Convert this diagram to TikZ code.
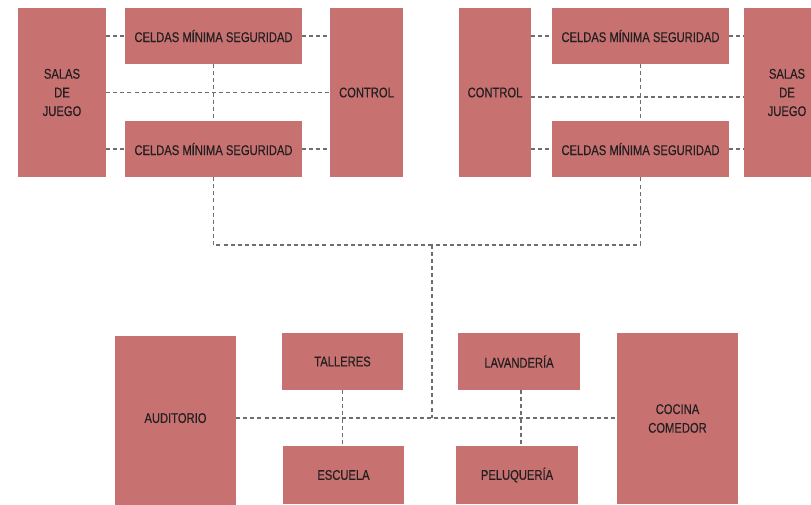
\documentclass[tikz,border=0pt]{standalone}
\usepackage{fontspec}
\setmainfont{Liberation Sans}[FakeStretch=0.8, FakeBold=0.4]
\usepackage{tikz}
\usetikzlibrary{positioning, calc}

\definecolor{roomred}{HTML}{C87171}
\definecolor{linkgray}{HTML}{6E6E6E}
\definecolor{labeltext}{HTML}{231F20}

\begin{document}
\begin{tikzpicture}[
    x=0.75pt, y=-0.75pt,
    room/.style={fill=roomred, draw=none, inner sep=0pt, align=center,
                 text=labeltext, font=\fontsize{10.5}{14}\selectfont},
    cell/.style={room, minimum width=132.75pt, minimum height=42pt},
    link/.style={draw=linkgray, line width=0.9pt,
                 dash pattern=on 3pt off 2.3pt}
  ]
  \useasboundingbox (0,0) rectangle (811,504);

  % Left wing
  \node[room, minimum width=66pt, minimum height=126.75pt] (salasL) at (62,92.5) {SALAS\\DE\\JUEGO};
  \node[cell] (celdaLT) at (213.5,36) {CELDAS MÍNIMA SEGURIDAD};
  \node[cell] (celdaLB) at (213.5,149) {CELDAS MÍNIMA SEGURIDAD};
  \node[room, minimum width=54.75pt, minimum height=126.75pt] (controlL) at (366.5,92.5) {CONTROL};

  % Right wing
  \node[room, minimum width=54pt, minimum height=126.75pt] (controlR) at (495,92.5) {CONTROL};
  \node[cell] (celdaRT) at (640.5,36) {CELDAS MÍNIMA SEGURIDAD};
  \node[cell] (celdaRB) at (640.5,149) {CELDAS MÍNIMA SEGURIDAD};
  \node[room, minimum width=64.5pt, minimum height=126.75pt] (salasR) at (787,92.5) {SALAS\\DE\\JUEGO};

  % Services
  \node[room, minimum width=90.75pt, minimum height=129pt, text depth=6pt] (auditorio) at (175.5,422) {AUDITORIO};
  \node[room, minimum width=90.75pt, minimum height=42.75pt] (talleres) at (342.5,361.5) {TALLERES};
  \node[room, minimum width=90.75pt, minimum height=43.5pt] (escuela) at (343.5,475) {ESCUELA};
  \node[room, minimum width=91.5pt, minimum height=42.75pt] (lavanderia) at (519,361.5) {LAVANDERÍA};
  \node[room, minimum width=91.5pt, minimum height=43.5pt] (peluqueria) at (517,475) {PELUQUERÍA};
  \node[room, minimum width=90.75pt, minimum height=128.25pt] (cocina) at (677.5,418.5) {COCINA\\COMEDOR};

  \coordinate (hub) at (432,245);
  \coordinate (junc) at (432,418);

  % Left wing links
  \draw[link] (salasL.east |- celdaLT.west) -- (celdaLT.west);
  \draw[link] (celdaLT.east) -- (controlL.west |- celdaLT.east);
  \draw[link] (salasL) -- (controlL);
  \draw[link] (salasL.east |- celdaLB.west) -- (celdaLB.west);
  \draw[link] (celdaLB.east) -- (controlL.west |- celdaLB.east);
  \draw[link] (celdaLT.south) -- (celdaLB.north);

  % Right wing links
  \draw[link] (controlR.east |- celdaRT.west) -- (celdaRT.west);
  \draw[link] (celdaRT.east) -- (salasR.west |- celdaRT.east);
  \draw[link] (controlR.east |- 0,97) -- (salasR.west |- 0,97);
  \draw[link] (controlR.east |- celdaRB.west) -- (celdaRB.west);
  \draw[link] (celdaRB.east) -- (salasR.west |- celdaRB.east);
  \draw[link] (celdaRT.south) -- (celdaRB.north);

  % Trunk to services
  \draw[link] (celdaLB.south) |- (hub) -| (celdaRB.south);
  \draw[link] (hub) -- (junc);
  \draw[link] (auditorio.east |- junc) -- (cocina.west |- junc);
  \draw[link] (talleres.south) -- (talleres.south |- escuela.north);
  \draw[link] ($(lavanderia.south)+(2,0)$) -- ($(lavanderia.south |- peluqueria.north)+(2,0)$);
\end{tikzpicture}
\end{document}
